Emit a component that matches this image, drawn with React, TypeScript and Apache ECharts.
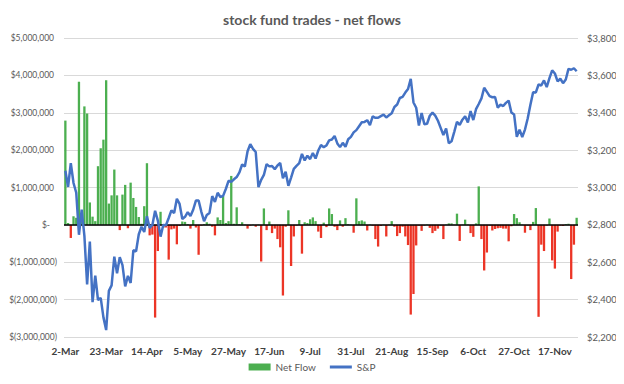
import React, { useEffect, useRef } from "react";
import * as echarts from "echarts";

const months = ["Mar", "Apr", "May", "Jun", "Jul", "Aug", "Sep", "Oct", "Nov"];
const tradingDays: number[][] = [
  [2, 3, 4, 5, 6, 9, 10, 11, 12, 13, 16, 17, 18, 19, 20, 23, 24, 25, 26, 27, 30, 31],
  [1, 2, 3, 6, 7, 8, 9, 13, 14, 15, 16, 17, 20, 21, 22, 23, 24, 27, 28, 29, 30],
  [1, 4, 5, 6, 7, 8, 11, 12, 13, 14, 15, 18, 19, 20, 21, 22, 26, 27, 28, 29],
  [1, 2, 3, 4, 5, 8, 9, 10, 11, 12, 15, 16, 17, 18, 19, 22, 23, 24, 25, 26, 29, 30],
  [1, 2, 6, 7, 8, 9, 10, 13, 14, 15, 16, 17, 20, 21, 22, 23, 24, 27, 28, 29, 31],
  [3, 4, 5, 6, 7, 10, 11, 12, 13, 14, 17, 18, 19, 20, 21, 24, 25, 26, 27, 28],
  [1, 2, 3, 4, 8, 9, 10, 11, 14, 15, 16, 17, 18, 21, 22, 23, 24, 25, 28, 29, 30],
  [1, 2, 5, 6, 7, 8, 9, 12, 13, 14, 15, 16, 19, 20, 21, 22, 23, 26, 27, 28, 29, 30],
  [2, 3, 4, 5, 6, 9, 10, 11, 12, 13, 16, 17, 18, 19, 20, 23, 24, 25, 27, 30],
];

// Net flows, $ millions
const flowsMar = [2.79, 0.05, -0.35, 0.23, 0.19, 3.83, 0.15, 3.17, 2.98, 0.6, 0.22, 0.1, 1.57, 2.05, 2.28, 3.87, 0.57, 0.79, 1.48, 0.79, -0.14, 0.81];
const flowsApr = [1.07, -0.09, 1.13, 0.72, 0.48, 0.21, 0.03, 0.5, 1.65, -0.28, -0.26, -2.48, -0.7, 0.35, -0.08, -0.07, -0.93, -0.12, -0.1, -0.52, -0.03];
const flowsMay = [0.09, 0.08, 0.02, -0.1, 0.13, -0.07, -0.8, -0.02, 0.02, 0.07, 0.03, -0.05, -0.28, 0.2, 0.13, 0.77, 0.05, 0.1, 1.31, 0.03];
const flowsJun = [0.47, 0.02, 0.07, 0.01, -0.1, -0.02, 0.01, -0.05, 0.01, -0.98, 0.44, -0.14, 0.09, -0.22, -0.1, -0.38, -0.6, -1.89, -0.05, 0.39, -1.1, -0.31];
const flowsJul = [-0.02, 0.13, -0.77, 0.07, 0.05, 0.15, 0.2, 0.1, -0.18, -0.35, 0.06, -0.06, 0.44, 0.29, -0.05, -0.14, 0.12, -0.05, 0.18, 0.02, 0.01];
const flowsAug = [-0.21, 0.71, 0.1, 0.12, 0.09, -0.15, 0.01, -0.02, -0.38, -0.58, -0.03, 0.01, -0.31, 0.01, 0.1, -0.05, -0.3, -0.22, -0.05, -0.31];
const flowsSep = [-0.54, -2.4, -1.85, -0.55, -0.02, -0.16, -0.02, 0.01, -0.08, -0.22, -0.16, -0.1, -0.02, -0.38, 0.01, 0.04, 0.04, 0.01, 0.3, -0.43, 0.01];
const flowsOct = [0.14, 0.01, -0.22, -0.32, 0.04, 1.03, -0.38, -1.22, -0.74, -0.02, -0.15, -0.11, -0.09, -0.08, -0.1, -0.1, -0.44, -0.04, 0.29, 0.18, 0.07, 0.01];
const flowsNov = [-0.21, -0.02, -0.14, 0.08, 0.45, -2.46, -0.53, -0.7, -0.02, 0.17, -0.95, -1.17, -0.18, -0.02, -0.03, 0.02, 0.03, -1.45, -0.53, 0.19];

// S&P 500 closes
const spMar = [3090, 3003, 3130, 3024, 2972, 2747, 2882, 2741, 2481, 2711, 2386, 2529, 2398, 2409, 2305, 2237, 2447, 2476, 2630, 2541, 2627, 2585];
const spApr = [2471, 2527, 2489, 2664, 2659, 2750, 2790, 2762, 2846, 2783, 2800, 2875, 2823, 2737, 2799, 2798, 2837, 2878, 2863, 2940, 2912];
const spMay = [2831, 2843, 2868, 2848, 2881, 2930, 2930, 2870, 2820, 2853, 2864, 2954, 2923, 2972, 2949, 2955, 2992, 3036, 3030, 3044];
const spJun = [3056, 3081, 3123, 3112, 3194, 3232, 3207, 3190, 3002, 3041, 3067, 3125, 3113, 3115, 3098, 3118, 3131, 3050, 3084, 3009, 3053, 3100];
const spJul = [3116, 3130, 3180, 3145, 3170, 3152, 3185, 3155, 3198, 3227, 3216, 3225, 3252, 3257, 3276, 3236, 3216, 3239, 3218, 3258, 3271];
const spAug = [3295, 3307, 3328, 3349, 3351, 3360, 3334, 3380, 3373, 3373, 3382, 3390, 3375, 3386, 3397, 3431, 3444, 3479, 3485, 3508];
const spSep = [3527, 3581, 3455, 3427, 3332, 3399, 3339, 3341, 3384, 3401, 3385, 3357, 3319, 3281, 3316, 3237, 3247, 3298, 3352, 3335, 3363];
const spOct = [3381, 3348, 3409, 3361, 3419, 3447, 3477, 3534, 3512, 3489, 3483, 3484, 3427, 3443, 3436, 3453, 3465, 3401, 3391, 3271, 3310, 3270];
const spNov = [3310, 3369, 3443, 3510, 3509, 3551, 3546, 3573, 3537, 3585, 3627, 3610, 3568, 3582, 3558, 3578, 3635, 3630, 3638, 3622];

const GREEN = "#4CAF50";
const RED = "#EC3526";
const BLUE = "#4472C4";
const TEXT = "#595959";
const FONT = "Lato, 'Liberation Sans', sans-serif";

const categories: string[] = [];
tradingDays.forEach((days, m) => days.forEach((d) => categories.push(`${d}-${months[m]}`)));
const flows = [...flowsMar, ...flowsApr, ...flowsMay, ...flowsJun, ...flowsJul, ...flowsAug, ...flowsSep, ...flowsOct, ...flowsNov];
const sp = [...spMar, ...spApr, ...spMay, ...spJun, ...spJul, ...spAug, ...spSep, ...spOct, ...spNov];

const fmt = (n: number) => n.toLocaleString("en-US");

export default function App() {
  const ref = useRef<HTMLDivElement>(null);
  useEffect(() => {
    if (!ref.current) return;
    const chart = echarts.init(ref.current, undefined, { renderer: "svg" });
    chart.setOption({
      animation: false,
      backgroundColor: "#fff",
      title: {
        text: "stock fund trades - net flows",
        left: "center",
        top: 7,
        textStyle: { color: TEXT, fontSize: 14, fontWeight: "bold", fontFamily: FONT },
      },
      legend: {
        bottom: 7,
        left: "center",
        itemWidth: 22,
        itemHeight: 7,
        itemGap: 14,
        textStyle: { color: TEXT, fontSize: 10, fontFamily: FONT },
        data: [
          { name: "Net Flow", icon: "rect" },
          { name: "S&P", icon: "path://M0 0H22V3H0Z" },
        ],
      },
      grid: { left: 64, right: 46, top: 38, bottom: 47 },
      xAxis: {
        type: "category",
        data: categories,
        boundaryGap: true,
        axisLine: { show: false },
        axisTick: { show: false },
        axisLabel: {
          interval: 14,
          color: "#404040",
          fontSize: 10,
          fontWeight: "bold",
          fontFamily: FONT,
          margin: 9,
        },
      },
      yAxis: [
        {
          type: "value",
          min: -3000000,
          max: 5000000,
          interval: 1000000,
          axisLine: { show: false },
          axisTick: { show: false },
          splitLine: { lineStyle: { color: "#D9D9D9", width: 1 } },
          axisLabel: {
            margin: 7,
            formatter: (v: number) =>
              v === 0 ? "{z|$-}" : v < 0 ? `{n|$(${fmt(-v)})}` : `{p|$${fmt(v)}}`,
            rich: {
              p: { color: TEXT, fontSize: 8.5, fontFamily: FONT, padding: [0, 3, 0, 0] },
              n: { color: TEXT, fontSize: 8.5, fontFamily: FONT },
              z: { color: TEXT, fontSize: 8.5, fontFamily: FONT, padding: [0, 7, 0, 0] },
            },
          },
        },
        {
          type: "value",
          min: 2200,
          max: 3800,
          interval: 200,
          axisLine: { show: false },
          axisTick: { show: false },
          splitLine: { show: false },
          axisLabel: {
            margin: 9,
            color: TEXT,
            fontSize: 9.5,
            fontFamily: FONT,
            formatter: (v: number) => `$${fmt(v)}`,
          },
        },
      ],
      series: [
        {
          name: "Net Flow",
          type: "bar",
          yAxisIndex: 0,
          barCategoryGap: "15%",
          itemStyle: { color: GREEN },
          data: flows.map((v) => ({
            value: Math.round(v * 1000000),
            itemStyle: { color: v < 0 ? RED : GREEN },
          })),
          markLine: {
            silent: true,
            symbol: "none",
            label: { show: false },
            lineStyle: { color: "#000", width: 1.5, type: "solid" },
            data: [{ yAxis: 0 }],
          },
        },
        {
          name: "S&P",
          type: "line",
          yAxisIndex: 1,
          symbol: "none",
          lineStyle: { color: BLUE, width: 2.5 },
          itemStyle: { color: BLUE },
          data: sp,
          z: 5,
        },
      ],
    });
    return () => chart.dispose();
  }, []);
  return <div ref={ref} style={{ width: 624, height: 384, margin: -8 }} />;
}
